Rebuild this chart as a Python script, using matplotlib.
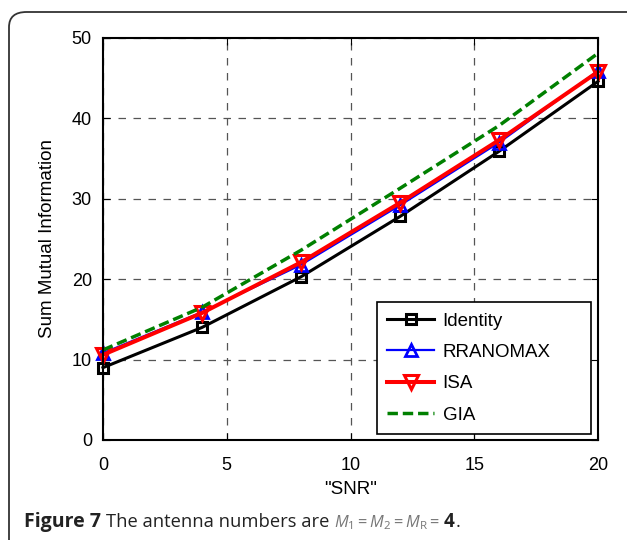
import matplotlib
matplotlib.use("Agg")
from matplotlib import pyplot as plt
from matplotlib.patches import FancyBboxPatch

snr = [0, 4, 8, 12, 16, 20]
identity = [9.0, 14.0, 20.3, 27.8, 35.9, 44.6]
rranomax = [10.8, 15.9, 21.8, 29.2, 37.0, 45.9]
isa = [10.6, 15.8, 22.1, 29.5, 37.3, 45.8]
gia = [11.2, 16.5, 23.6, 31.3, 39.1, 48.1]

plt.rcParams['font.family'] = ['Liberation Sans', 'DejaVu Sans']
plt.rcParams['mathtext.fontset'] = 'custom'
plt.rcParams['mathtext.it'] = 'Open Sans:italic'
plt.rcParams['mathtext.rm'] = 'Open Sans'

fig = plt.figure(figsize=(6.27, 5.4), dpi=100)
ax = fig.add_axes([103/627, 1-440/540, 495/627, 402/540])

# rounded frame around the figure
frame = FancyBboxPatch((9/627, -0.1), 1.2, 1.1-12/540, boxstyle="round,pad=0,rounding_size=0.028",
                       transform=fig.transFigure, fc="none", ec="#333333", lw=1.3, clip_on=False)
fig.patches.append(frame)

ax.plot(snr, identity, color="black", lw=2.2, marker="s", ms=7, mfc="none", mew=2.2,
        label="Identity", clip_on=False)
ax.plot(snr, rranomax, color="blue", lw=1.6, marker="^", ms=9, mfc="none", mew=2,
        label="RRANOMAX", clip_on=False)
ax.plot(snr, isa, color="red", lw=2.9, marker="v", ms=10, mfc="none", mew=2.2,
        label="ISA", clip_on=False)
ax.plot(snr, gia, color="green", lw=2.5, ls=(0, (3, 1.4)), label="GIA", clip_on=False)

ax.set_xlim(0, 20)
ax.set_ylim(0, 50)
ax.set_xticks([0, 5, 10, 15, 20])
ax.set_yticks([0, 10, 20, 30, 40, 50])
ax.grid(True, color="#555555", ls=(0, (6, 6)), lw=0.9)
ax.tick_params(labelsize=13, direction="in", length=5, top=True, right=True)
ax.tick_params(axis="y", pad=8)
ax.tick_params(axis="x", pad=12)
for s in ax.spines.values():
    s.set_linewidth(1.5)
ax.set_xlabel('"SNR"', fontsize=13.5, labelpad=5)
ax.set_ylabel("Sum Mutual Information", fontsize=13.5, labelpad=11)

leg = ax.legend(loc="lower left", fontsize=13.5, frameon=True, fancybox=False,
                edgecolor="black", framealpha=1, borderpad=0.55, labelspacing=0.76,
                handlelength=2.5, handletextpad=0.45, mode="expand", borderaxespad=0,
                bbox_to_anchor=((377-103)/495, 6/402, 214/495, 0.3))
leg.get_frame().set_linewidth(1.2)

# caption, pieces placed one after another
fig.canvas.draw()
r = fig.canvas.get_renderer()
x = 24
y = 540 - 527
pieces = [("Figure 7", 14, 5, dict(fontweight="bold", family="Open Sans", color="#222222")),
          ("The antenna numbers are", 13.2, 5, dict(family="Open Sans", color="#222222")),
          (r"$M_1 = M_2 = M_\mathrm{R} =$", 11.8, 3, dict(color="#777777")),
          ("4", 13.5, 1, dict(fontweight="bold", family="Open Sans", color="#222222")),
          (".", 13.2, 0, dict(family="Open Sans", color="#222222"))]
for s, fs, gap, kw in pieces:
    t = fig.text(x, y, s, fontsize=fs, transform=None, va="baseline", **kw)
    x = t.get_window_extent(r).x1 + gap

fig.savefig("out.png", dpi=100)
